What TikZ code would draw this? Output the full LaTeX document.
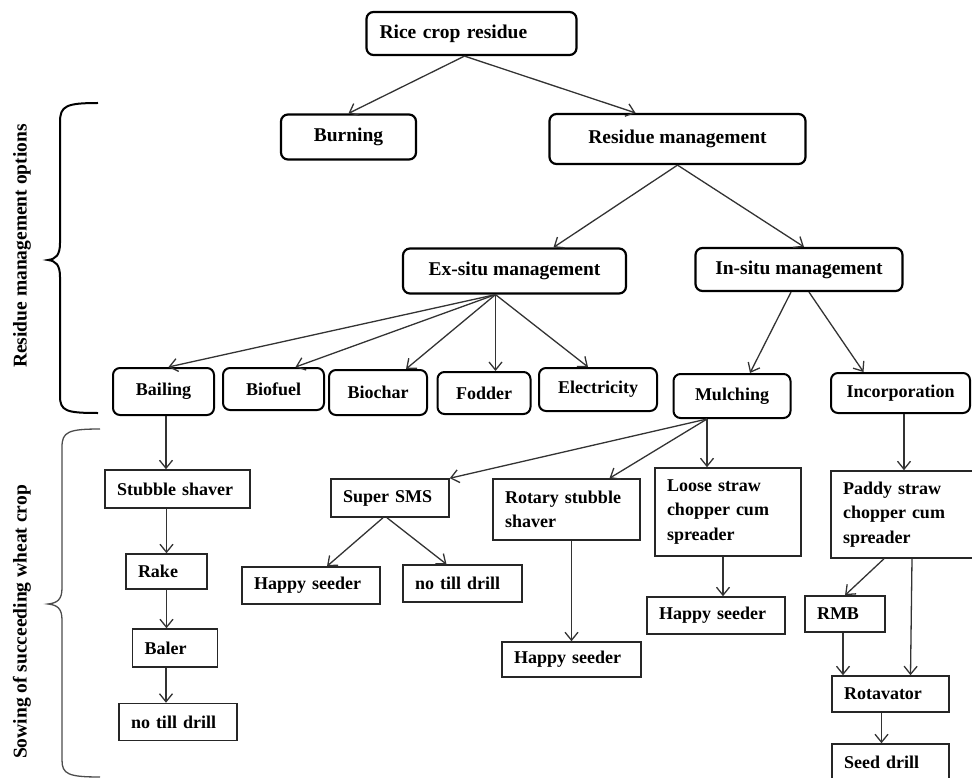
\documentclass[tikz,border=0pt]{standalone}
\usepackage{fontspec}
\setmainfont{Liberation Serif}
\usetikzlibrary{arrows.meta}
\tikzset{
  topbox/.style={draw,line width=2.2pt,rounded corners=7pt,inner sep=0pt,font=\fontsize{19.5}{23}\selectfont\bfseries},
  midbox/.style={draw,line width=2pt,rounded corners=7pt,inner sep=0pt,font=\fontsize{18}{22}\selectfont\bfseries},
  lowbox/.style={draw=black!85,line width=1.5pt,inner xsep=12pt,inner ysep=0pt,align=left,font=\fontsize{18}{24.5}\selectfont\bfseries},
  sidelbl/.style={rotate=90,font=\fontsize{19.5}{23}\selectfont\bfseries},
  arr/.style={draw=black!80,line width=1.3pt,-{Straight Barb[length=8pt,width=13pt]}},
}
\begin{document}
\begin{tikzpicture}[x=1pt,y=-1pt]
\useasboundingbox (0,0) rectangle (972,778);
\clip (0,0) rectangle (972,778);
% upper levels
\node[topbox,minimum width=210,minimum height=43,text width=184,align=left,inner xsep=13pt] (rice) at (471.5,33.5) {Rice crop residue};
\node[topbox,minimum width=135,minimum height=45] (burn) at (348.5,137) {Burning};
\node[topbox,minimum width=256,minimum height=50] (resm) at (677.5,139) {Residue management};
\node[topbox,minimum width=223,minimum height=45] (exsitu) at (514.5,271) {Ex-situ management};
\node[topbox,minimum width=207,minimum height=43] (insitu) at (799,269.5) {In-situ management};
% options
\node[midbox,minimum width=101,minimum height=47] (bail) at (163.5,391.5) {Bailing};
\node[midbox,minimum width=101,minimum height=42] (biofuel) at (273.5,389) {Biofuel};
\node[midbox,minimum width=98,minimum height=45] (biochar) at (378,392.5) {Biochar};
\node[midbox,minimum width=93,minimum height=42] (fodder) at (484,393) {Fodder};
\node[midbox,minimum width=118,minimum height=43] (elec) at (598,389.5) {Electricity};
\node[midbox,minimum width=117,minimum height=44] (mulch) at (732,396) {Mulching};
\node[midbox,minimum width=139,minimum height=40] (incorp) at (900.5,393) {Incorporation};
% machinery
\node[lowbox,text width=121,minimum height=38] (stubble) at (177.5,489) {Stubble shaver};
\node[lowbox,text width=57,minimum height=35] (rake) at (166.5,571.5) {Rake};
\node[lowbox,text width=61,minimum height=38] (baler) at (175,648) {Baler};
\node[lowbox,text width=94,minimum height=37] (notilla) at (178,722) {no till drill};
\node[lowbox,text width=94,minimum height=38] (supersms) at (390,498) {Super SMS};
\node[lowbox,text width=114,minimum height=37] (happya) at (311,585.5) {Happy seeder};
\node[lowbox,text width=95,minimum height=37] (notillb) at (462.5,583.5) {no till drill};
\node[lowbox,text width=123,minimum height=61] (rotary) at (566.5,509.5) {Rotary stubble\\shaver};
\node[lowbox,text width=115,minimum height=35] (happyb) at (571.5,659.5) {Happy seeder};
\node[lowbox,text width=122,minimum height=88] (loose) at (728,512) {Loose straw\\chopper cum\\spreader};
\node[lowbox,text width=114,minimum height=37] (happyc) at (716,615.5) {Happy seeder};
\node[lowbox,text width=122,minimum height=87] (paddy) at (904,514.5) {Paddy straw\\chopper cum\\spreader};
\node[lowbox,text width=56,minimum height=36] (rmb) at (845,614) {RMB};
\node[lowbox,text width=93,minimum height=36] (rotav) at (890.5,694) {Rotavator};
\node[lowbox,text width=93,minimum height=36] (seed) at (890.5,762) {Seed drill};
% braces
\draw[line width=2pt] (98,103) .. controls (66,103) and (60,106) .. (60,122) -- (60,243)
  .. controls (60,255) and (56,259) .. (48,260) .. controls (56,261) and (60,265) .. (60,277)
  -- (60,396) .. controls (60,411) and (66,413) .. (98,413);
\draw[line width=1.3pt,black!70] (100,429) .. controls (68,429) and (62,432) .. (62,447) -- (62,588)
  .. controls (62,600) and (57,603) .. (48,604) .. controls (57,605) and (62,608) .. (62,620)
  -- (62,760) .. controls (62,774) and (68,777) .. (100,777);
\node[sidelbl] (optlbl) at (22,246) {Residue management options};
\node[sidelbl] (sowlbl) at (22,622) {Sowing of succeeding wheat crop};
% connectors
\coordinate (ricefan) at ([xshift=-7]rice.south);
\draw[arr] (ricefan) -- (burn.north);
\draw[arr] (ricefan) -- ([xshift=-42]resm.north);
\draw[arr] (resm.south) -- ([xshift=39]exsitu.north);
\draw[arr] (resm.south) -- ([xshift=5]insitu.north);
\coordinate (exfan) at ([xshift=-19]exsitu.south);
\draw[arr] (exfan) -- ([xshift=5]bail.north);
\draw[arr] (exfan) -- ([xshift=22]biofuel.north);
\draw[arr] (exfan) -- ([xshift=28]biochar.north);
\draw[arr] (exfan) -- (exfan |- fodder.north);
\draw[arr] (exfan) -- ([xshift=-10]elec.north);
\draw[arr] ([xshift=-8]insitu.south) -- ([xshift=18]mulch.north);
\draw[arr] ([xshift=10]insitu.south) -- ([xshift=-37]incorp.north);
\draw[arr] ([xshift=2.5]bail.south) -- ([xshift=2.5]bail.south |- stubble.north);
\draw[arr] (rake.north |- stubble.south) -- (rake.north);
\draw[arr] (rake.south) -- (rake.south |- baler.north);
\draw[arr] ([xshift=-9]baler.south) -- ([xshift=-9]baler.south |- notilla.north);
\coordinate (mulfan) at ([xshift=-25]mulch.south);
\draw[arr] (mulfan) -- (supersms.north east);
\draw[arr] (mulfan) -- ([xshift=43]rotary.north);
\draw[arr] (mulfan) -- (mulfan |- loose.north);
\draw[arr] ([xshift=-7]supersms.south) -- ([xshift=16]happya.north);
\draw[arr] ([xshift=-3]supersms.south) -- ([xshift=-16]notillb.north);
\draw[arr] (happyb.north |- rotary.south) -- (happyb.north);
\draw[arr] ([xshift=-5]loose.south) -- ([xshift=-5]loose.south |- happyc.north);
\draw[arr] (paddy.north |- incorp.south) -- (paddy.north);
\draw[arr] ([xshift=-20]paddy.south) -- (rmb.north);
\draw[arr] ([xshift=8]paddy.south) -- ([xshift=20]rotav.north);
\draw[arr] ([xshift=-2]rmb.south) -- ([xshift=-2]rmb.south |- rotav.north);
\draw[arr] ([xshift=-9]rotav.south) -- ([xshift=-9]rotav.south |- seed.north);
\end{tikzpicture}
\end{document}
